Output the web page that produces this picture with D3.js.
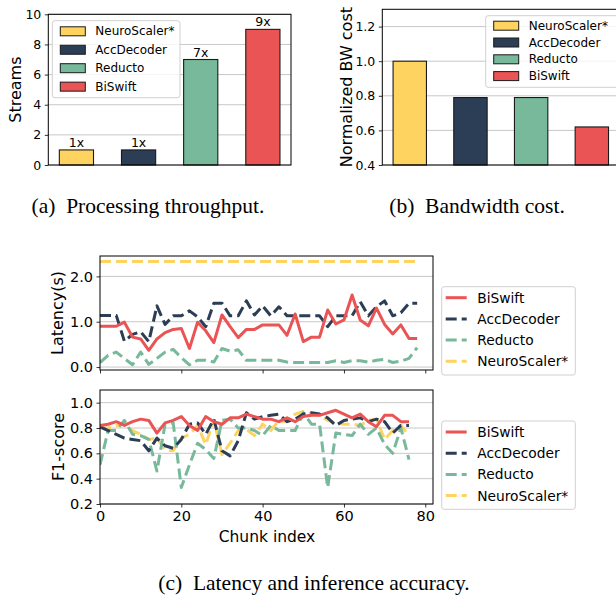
<!DOCTYPE html>
<html>
<head>
<meta charset="utf-8">
<script src="https://cdn.jsdelivr.net/npm/d3@7"></script>
<style>
  body { margin: 0; background: #fff; }
  svg { display: block; }
  .caption { font-family: "Liberation Serif", "Times New Roman", serif; }
</style>
</head>
<body>
<div id="chart"></div>
<script>
// Methods shared by all panels
const methods = ["NeuroScaler*", "AccDecoder", "Reducto", "BiSwift"];
const methodColor = {
    "NeuroScaler*": "#fed35f",
    "AccDecoder": "#2c3e56",
    "Reducto": "#77b99a",
    "BiSwift": "#ea5455"
};

// (a) processing throughput
const streams = [1, 1, 7, 9];
const streamLabels = ["1x", "1x", "7x", "9x"];
const streamTicks = [0, 2, 4, 6, 8, 10];

// (b) bandwidth cost
const bwCost = [1.0, 0.79, 0.79, 0.62];
const bwTicks = [0.4, 0.6, 0.8, 1.0, 1.2];

// (c) latency per chunk
const latencyChunk = [0, 2, 4, 6, 8, 10, 12, 14, 16, 18, 20, 22, 24, 26, 28, 30, 32, 34, 36, 38,
    40, 42, 44, 46, 48, 50, 52, 54, 56, 58, 60, 62, 64, 66, 68, 70, 72, 74, 76, 78];
const latencyBiSwift = [0.90, 0.90, 0.90, 0.99, 0.66, 0.62, 0.37, 0.62, 0.76, 0.83, 0.85, 0.41, 0.99, 0.80, 0.54, 1.15,
    0.89, 0.65, 0.83, 0.83, 0.93, 0.93, 0.93, 0.70, 1.17, 0.56, 0.66, 0.66, 1.26, 0.95, 1.04, 1.59,
    1.04, 0.91, 1.30, 0.94, 0.73, 0.93, 0.63, 0.63];
const latencyAccDecoder = [1.14, 1.14, 1.14, 0.57, 0.72, 0.78, 0.56, 1.35, 0.94, 1.13, 1.13, 1.24, 1.11, 0.89, 1.41, 1.41,
    1.13, 1.13, 1.46, 1.15, 1.35, 1.13, 1.33, 1.13, 1.13, 1.13, 1.13, 1.13, 0.89, 1.13, 1.13, 1.13,
    1.44, 1.13, 1.33, 1.46, 1.13, 1.20, 1.41, 1.41];
const latencyReducto = [0.10, 0.26, 0.33, 0.19, 0.05, 0.33, 0.06, 0.19, 0.33, 0.39, 0.21, 0.05, 0.15, 0.15, 0.11, 0.41,
    0.35, 0.38, 0.15, 0.15, 0.15, 0.15, 0.15, 0.11, 0.10, 0.10, 0.10, 0.10, 0.10, 0.14, 0.10, 0.14,
    0.14, 0.11, 0.15, 0.17, 0.10, 0.13, 0.19, 0.43];
const latencyNeuroScaler = [2.33, 2.33, 2.33, 2.33, 2.33, 2.33, 2.33, 2.33, 2.33, 2.33, 2.33, 2.33, 2.33, 2.33, 2.33, 2.33,
    2.33, 2.33, 2.33, 2.33, 2.33, 2.33, 2.33, 2.33, 2.33, 2.33, 2.33, 2.33, 2.33, 2.33, 2.33, 2.33,
    2.33, 2.33, 2.33, 2.33, 2.33, 2.33, 2.33, 2.33];
const latencyTicks = [0.0, 1.0, 2.0];

// (c) F1-score per chunk
const f1Chunk = [0, 2, 4, 6, 8, 10, 12, 14, 16, 18, 20, 22, 24, 26, 28, 30, 32, 34, 36, 38,
    40, 42, 44, 46, 48, 50, 52, 54, 56, 58, 60, 62, 64, 66, 68, 70, 72, 74, 76];
const f1BiSwift = [0.82, 0.83, 0.85, 0.82, 0.85, 0.87, 0.86, 0.76, 0.84, 0.86, 0.89, 0.82, 0.78, 0.89, 0.85, 0.83,
    0.88, 0.88, 0.91, 0.89, 0.87, 0.87, 0.85, 0.88, 0.85, 0.89, 0.90, 0.90, 0.92, 0.94, 0.91, 0.88,
    0.91, 0.85, 0.81, 0.90, 0.90, 0.85, 0.85];
const f1AccDecoder = [0.81, 0.78, 0.75, 0.72, 0.71, 0.70, 0.62, 0.72, 0.66, 0.64, 0.71, 0.83, 0.84, 0.75, 0.87, 0.62,
    0.58, 0.70, 0.92, 0.87, 0.89, 0.90, 0.91, 0.85, 0.87, 0.91, 0.92, 0.91, 0.88, 0.82, 0.86, 0.87,
    0.88, 0.85, 0.87, 0.85, 0.76, 0.82, 0.82];
const f1Reducto = [0.51, 0.78, 0.78, 0.86, 0.75, 0.74, 0.71, 0.46, 0.83, 0.84, 0.33, 0.51, 0.68, 0.63, 0.56, 0.86,
    0.87, 0.80, 0.80, 0.78, 0.74, 0.82, 0.78, 0.78, 0.78, 0.92, 0.83, 0.83, 0.33, 0.76, 0.75, 0.74,
    0.83, 0.75, 0.80, 0.67, 0.60, 0.80, 0.55];
const f1NeuroScaler = [0.80, 0.80, 0.82, 0.83, 0.78, 0.75, 0.71, 0.72, 0.63, 0.62, 0.72, 0.75, 0.82, 0.67, 0.86, 0.59,
    0.68, 0.78, 0.79, 0.74, 0.83, 0.78, 0.86, 0.85, 0.91, 0.93, 0.91, 0.90, 0.86, 0.84, 0.83, 0.83,
    0.82, 0.86, 0.87, 0.71, 0.78, 0.82, 0.74];
const f1Ticks = [0.2, 0.4, 0.6, 0.8, 1.0];
const chunkTicks = [0, 20, 40, 60, 80];

const lineOrder = ["BiSwift", "AccDecoder", "Reducto", "NeuroScaler*"];

const sans = "'DejaVu Sans', sans-serif";
const gridColor = "#c8c8c8";

const svg = d3.select("#chart")
    .append("svg")
    .attr("width", 616)
    .attr("height", 597)
    .attr("viewBox", [0, 0, 616, 597]);

svg.append("rect").attr("width", 616).attr("height", 597).attr("fill", "#fff");

// Style an axis group like matplotlib
function styleAxis(g, fontSize) {
    g.select(".domain").remove();
    g.selectAll(".tick line").attr("stroke", "#000").attr("stroke-width", 0.8);
    g.selectAll(".tick text")
        .attr("fill", "#000")
        .attr("font-family", sans)
        .attr("font-size", fontSize);
}

function drawFrame(g, x0, x1, y0, y1) {
    g.append("rect")
        .attr("x", x0).attr("y", y1)
        .attr("width", x1 - x0).attr("height", y0 - y1)
        .attr("fill", "none")
        .attr("stroke", "#000")
        .attr("stroke-width", 1);
}

function drawGrid(g, y, ticks, x0, x1) {
    g.append("g").selectAll("line")
        .data(ticks)
        .join("line")
        .attr("x1", x0).attr("x2", x1)
        .attr("y1", d => y(d)).attr("y2", d => y(d))
        .attr("stroke", gridColor)
        .attr("stroke-width", 1);
}

// Bar chart panel
function barPanel(opts) {
    const g = svg.append("g");
    const x = d3.scaleLinear().domain([-0.4525, 3.4525]).range([opts.left, opts.right]);
    const y = d3.scaleLinear().domain(opts.yDomain).range([opts.bottom, opts.top]);

    drawGrid(g, y, opts.ticks, opts.left, opts.right);

    g.selectAll("rect.bar")
        .data(opts.values)
        .join("rect")
        .attr("class", "bar")
        .attr("x", (d, i) => x(i - 0.275))
        .attr("width", x(0.55) - x(0))
        .attr("y", d => y(d))
        .attr("height", d => y(opts.yDomain[0]) - y(d))
        .attr("fill", (d, i) => methodColor[methods[i]])
        .attr("stroke", "#1a1a1a")
        .attr("stroke-width", 1.1);

    if (opts.labels) {
        g.selectAll("text.barlabel")
            .data(opts.values)
            .join("text")
            .attr("class", "barlabel")
            .attr("x", (d, i) => x(i))
            .attr("y", d => y(d) - 3)
            .attr("text-anchor", "middle")
            .attr("font-family", sans)
            .attr("font-size", 12.5)
            .text((d, i) => opts.labels[i]);
    }

    const yAxis = g.append("g")
        .attr("transform", `translate(${opts.left},0)`)
        .call(d3.axisLeft(y).tickValues(opts.ticks).tickFormat(opts.format).tickSize(3.5).tickPadding(3.5));
    styleAxis(yAxis, 12.5);

    drawFrame(g, opts.left, opts.right, opts.bottom, opts.top);

    g.append("text")
        .attr("transform", `translate(${opts.labelX},${(opts.top + opts.bottom) / 2}) rotate(-90)`)
        .attr("text-anchor", "middle")
        .attr("dominant-baseline", "central")
        .attr("font-family", sans)
        .attr("font-size", 16)
        .text(opts.yLabel);

    // legend
    const lg = opts.legend;
    const leg = g.append("g");
    leg.append("rect")
        .attr("x", lg.x).attr("y", lg.y)
        .attr("width", lg.w).attr("height", lg.h)
        .attr("rx", 2.5)
        .attr("fill", "#fff").attr("fill-opacity", 0.8)
        .attr("stroke", "#d0d0d0");
    methods.forEach((m, i) => {
        const cy = lg.y + lg.first + i * lg.step;
        leg.append("rect")
            .attr("x", lg.x + 8).attr("y", cy - 4.5)
            .attr("width", 25).attr("height", 9)
            .attr("fill", methodColor[m])
            .attr("stroke", "#1a1a1a").attr("stroke-width", 1);
        leg.append("text")
            .attr("x", lg.x + 43).attr("y", cy)
            .attr("dominant-baseline", "central")
            .attr("font-family", sans)
            .attr("font-size", 12)
            .text(m);
    });
}

barPanel({
    left: 48.3, right: 291, top: 14.3, bottom: 165,
    yDomain: [0, 10], ticks: streamTicks, format: d3.format("d"),
    values: streams, labels: streamLabels,
    yLabel: "Streams", labelX: 15,
    legend: { x: 52.3, y: 20.7, w: 127.7, h: 77, first: 10.6, step: 18.45 }
});

barPanel({
    left: 382.3, right: 619.3, top: 9.3, bottom: 165,
    yDomain: [0.4, 1.3], ticks: bwTicks, format: d3.format(".1f"),
    values: bwCost, labels: null,
    yLabel: "Normalized BW cost", labelX: 346,
    legend: { x: 485.7, y: 15.7, w: 135, h: 71.6, first: 10, step: 16.8 }
});

// Line chart panel
function linePanel(opts) {
    const g = svg.append("g");
    const x = d3.scaleLinear().domain([0, 81.9]).range([opts.left, opts.right]);
    const y = d3.scaleLinear().domain(opts.yDomain).range([opts.bottom, opts.top]);

    drawGrid(g, y, opts.ticks, opts.left, opts.right);

    const clipId = "clip" + Math.round(opts.top);
    g.append("clipPath").attr("id", clipId)
        .append("rect")
        .attr("x", opts.left).attr("y", opts.top)
        .attr("width", opts.right - opts.left).attr("height", opts.bottom - opts.top);

    const line = d3.line()
        .x((d, i) => x(opts.chunks[i]))
        .y(d => y(d));

    const drawOrder = ["NeuroScaler*", "Reducto", "AccDecoder", "BiSwift"];
    drawOrder.forEach(m => {
        g.append("path")
            .datum(opts.series[m])
            .attr("clip-path", `url(#${clipId})`)
            .attr("fill", "none")
            .attr("stroke", methodColor[m])
            .attr("stroke-width", 3)
            .attr("stroke-linejoin", "round")
            .attr("stroke-dasharray", m === "BiSwift" ? null : "11,5")
            .attr("d", line);
    });

    const yAxis = g.append("g")
        .attr("transform", `translate(${opts.left},0)`)
        .call(d3.axisLeft(y).tickValues(opts.ticks).tickFormat(d3.format(".1f")).tickSize(3.5).tickPadding(3.5));
    styleAxis(yAxis, 14.5);

    const xAxis = g.append("g")
        .attr("transform", `translate(0,${opts.bottom})`)
        .call(d3.axisBottom(x).tickValues(chunkTicks).tickFormat(opts.xLabels ? d3.format("d") : "").tickSize(3.5).tickPadding(3));
    styleAxis(xAxis, 14.5);

    drawFrame(g, opts.left, opts.right, opts.bottom, opts.top);

    g.append("text")
        .attr("transform", `translate(${opts.labelX},${(opts.top + opts.bottom) / 2}) rotate(-90)`)
        .attr("text-anchor", "middle")
        .attr("dominant-baseline", "central")
        .attr("font-family", sans)
        .attr("font-size", 16)
        .text(opts.yLabel);

    // legend
    const lg = opts.legend;
    const leg = g.append("g");
    leg.append("rect")
        .attr("x", lg.x).attr("y", lg.y)
        .attr("width", 133.6).attr("height", 88.3)
        .attr("rx", 2.5)
        .attr("fill", "#fff").attr("fill-opacity", 0.8)
        .attr("stroke", "#d0d0d0");
    lineOrder.forEach((m, i) => {
        const cy = lg.y + 11 + i * 21.2;
        leg.append("line")
            .attr("x1", lg.x + 4).attr("x2", lg.x + 25)
            .attr("y1", cy).attr("y2", cy)
            .attr("stroke", methodColor[m])
            .attr("stroke-width", 3)
            .attr("stroke-dasharray", m === "BiSwift" ? null : "11,5");
        leg.append("text")
            .attr("x", lg.x + 35.5).attr("y", cy)
            .attr("dominant-baseline", "central")
            .attr("font-family", sans)
            .attr("font-size", 13.8)
            .text(m);
    });
}

linePanel({
    left: 100, right: 433, top: 256, bottom: 370,
    yDomain: [-0.065, 2.45], ticks: latencyTicks,
    chunks: latencyChunk,
    series: {
        "BiSwift": latencyBiSwift,
        "AccDecoder": latencyAccDecoder,
        "Reducto": latencyReducto,
        "NeuroScaler*": latencyNeuroScaler
    },
    xLabels: false,
    yLabel: "Latency(s)", labelX: 57,
    legend: { x: 441.7, y: 286.7 }
});

linePanel({
    left: 100, right: 433, top: 390, bottom: 504,
    yDomain: [0.2, 1.1], ticks: f1Ticks,
    chunks: f1Chunk,
    series: {
        "BiSwift": f1BiSwift,
        "AccDecoder": f1AccDecoder,
        "Reducto": f1Reducto,
        "NeuroScaler*": f1NeuroScaler
    },
    xLabels: true,
    yLabel: "F1-score", labelX: 58,
    legend: { x: 441.7, y: 421 }
});

svg.append("text")
    .attr("x", 267).attr("y", 537)
    .attr("text-anchor", "middle")
    .attr("dominant-baseline", "central")
    .attr("font-family", sans)
    .attr("font-size", 15.5)
    .text("Chunk index");

// captions
const captions = [
    { x: 148, y: 213, t: "(a)\u2002Processing throughput." },
    { x: 477, y: 213, t: "(b)\u2002Bandwidth cost." },
    { x: 314, y: 590, t: "(c)\u2002Latency and inference accuracy." }
];
svg.selectAll("text.caption")
    .data(captions)
    .join("text")
    .attr("class", "caption")
    .attr("x", d => d.x).attr("y", d => d.y)
    .attr("text-anchor", "middle")
    .attr("font-size", 21.5)
    .text(d => d.t);
</script>
</body>
</html>
